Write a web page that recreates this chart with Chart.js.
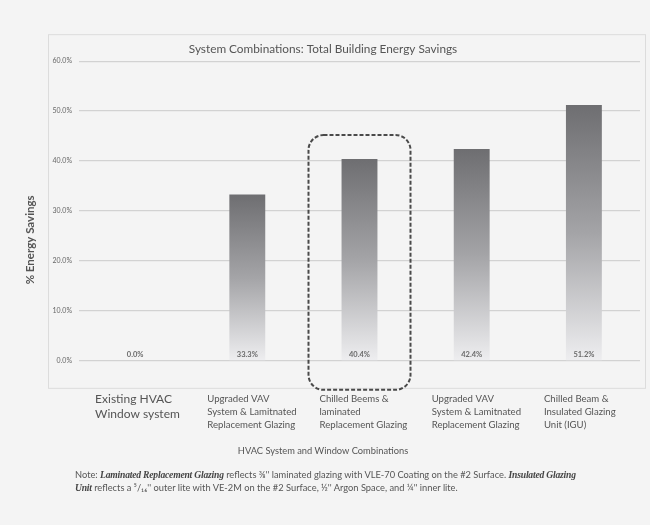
<!DOCTYPE html>
<html>
<head>
<meta charset="utf-8">
<script src="https://cdn.jsdelivr.net/npm/chart.js@4.4.1/dist/chart.umd.min.js"></script>
<style>
  body { margin: 0; background: #f4f4f4; }
  #wrap { position: relative; width: 650px; height: 525px; }
  #note {
    position: absolute; left: 75px; top: 469px; white-space: nowrap;
    font-family: Lato, sans-serif; font-size: 9.3px; line-height: 12.5px; color: #555;
  }
  #note b { font-family: "Liberation Serif", serif; font-style: italic; font-size: 9.6px; letter-spacing: -0.2px; color: #444; }
</style>
</head>
<body>
<div id="wrap">
  <canvas id="myChart" width="650" height="525"></canvas>
  <div id="note">Note: <b>Laminated Replacement Glazing</b> reflects ⅜'' laminated glazing with VLE-70 Coating on the #2 Surface. <b>Insulated Glazing</b><br><b>Unit</b> reflects a ⁵/₁₆'' outer lite with VE-2M on the #2 Surface, ½'' Argon Space, and ¼'' inner lite.</div>
</div>
<script>
var xValues = [
  ["Existing HVAC", "Window system"],
  ["Upgraded VAV", "System & Lamitnated", "Replacement Glazing"],
  ["Chilled Beems &", "laminated", "Replacement Glazing"],
  ["Upgraded VAV", "System & Lamitnated", "Replacement Glazing"],
  ["Chilled Beam &", "Insulated Glazing", "Unit (IGU)"]
];
var savings = [0.0, 33.3, 40.4, 42.4, 51.2];
var yTicks = [0, 10, 20, 30, 40, 50, 60];
var yTitle = "% Energy Savings";
var highlight = 2;

var sans = "Lato, 'Open Sans', sans-serif";

// grey fade from bar top down to the base
function barFill(ctx) {
  var chart = ctx.chart;
  if (!chart.chartArea || ctx.raw == null) return "#999";
  var y = chart.scales.y;
  var top = y.getPixelForValue(ctx.raw);
  var base = y.getPixelForValue(0);
  if (base - top < 1) return "rgba(0,0,0,0)";
  var g = chart.ctx.createLinearGradient(0, top, 0, base);
  g.addColorStop(0, "#6e6e71");
  g.addColorStop(0.5, "#a4a4a7");
  g.addColorStop(1, "#eeeef0");
  return g;
}

var framePlugin = {
  id: "frame",
  beforeDraw: function(chart) {
    var a = chart.chartArea, c = chart.ctx;
    c.save();
    c.strokeStyle = "#dcdcdc";
    c.lineWidth = 1;
    c.strokeRect(a.left - 30.5, a.top - 26.5, a.right - a.left + 36, a.bottom - a.top + 54);
    // y axis title, sits a bit below the middle of the plot
    c.translate(a.left - 49, a.bottom - 121);
    c.rotate(-Math.PI / 2);
    c.font = "bold 11.5px Lato, sans-serif";
    c.fillStyle = "#555";
    c.textAlign = "center";
    c.textBaseline = "middle";
    c.fillText(yTitle, 0, 0);
    c.restore();
  }
};

var labelPlugin = {
  id: "valueLabels",
  afterDatasetsDraw: function(chart) {
    var c = chart.ctx;
    var meta = chart.getDatasetMeta(0);
    c.save();
    c.font = "bold 7.5px " + sans;
    c.fillStyle = "#6a6a6a";
    c.textAlign = "center";
    c.textBaseline = "middle";
    meta.data.forEach(function(bar, i) {
      c.fillText(savings[i].toFixed(1) + "%", bar.x, bar.base - 6);
    });
    // dashed box around the highlighted combination
    var bar = meta.data[highlight];
    var y = chart.scales.y;
    var x0 = bar.x - 51, x1 = bar.x + 51;
    var y0 = y.getPixelForValue(savings[highlight]) - 24;
    var y1 = y.getPixelForValue(0) + 29;
    c.setLineDash([4, 2]);
    c.strokeStyle = "#4a4a4a";
    c.lineWidth = 2;
    c.beginPath();
    c.roundRect(x0, y0, x1 - x0, y1 - y0, 15);
    c.stroke();
    c.restore();
  }
};

new Chart("myChart", {
  type: "bar",
  data: {
    labels: xValues,
    datasets: [{
      data: savings,
      backgroundColor: barFill,
      borderWidth: 0,
      categoryPercentage: 1,
      barPercentage: 0.32
    }]
  },
  options: {
    responsive: false,
    animation: false,
    layout: { padding: { left: 6, right: 10, top: 0, bottom: 0 } },
    plugins: {
      legend: { display: false },
      tooltip: { enabled: false },
      title: {
        display: true,
        text: "System Combinations: Total Building Energy Savings",
        color: "#555",
        font: { family: sans, size: 11.8, weight: "normal" },
        padding: { top: 42, bottom: 5 }
      },
      subtitle: {
        display: true,
        position: "bottom",
        text: "HVAC System and Window Combinations",
        color: "#555",
        font: { family: sans, size: 9.3, weight: "normal" },
        padding: { top: 0, bottom: 68 }
      }
    },
    scales: {
      x: {
        grid: { display: false },
        border: { display: false },
        ticks: {
          align: "start",
          labelOffset: -40,
          padding: 23,
          color: "#555",
          font: function(ctx) {
            return ctx.index === 0
              ? { family: sans, size: 12, lineHeight: 1.25 }
              : { family: sans, size: 9.6, lineHeight: 1.37 };
          }
        },
        afterFit: function(s) {
          s.height = 85;
          s.paddingLeft = 0;
          s.paddingRight = 0;
        }
      },
      y: {
        min: 0,
        max: 60,
        afterBuildTicks: function(s) { s.ticks = yTicks.map(function(v) { return { value: v }; }); },
        ticks: {
          padding: 7,
          color: "#666",
          font: { family: sans, size: 7 },
          callback: function(v) { return v.toFixed(1) + "%"; }
        },
        grid: { color: "#d2d2d2", lineWidth: 1.3, drawTicks: false },
        border: { display: false },
        afterFit: function(s) { s.width = 73; }
      }
    }
  },
  plugins: [framePlugin, labelPlugin]
});
</script>
</body>
</html>
